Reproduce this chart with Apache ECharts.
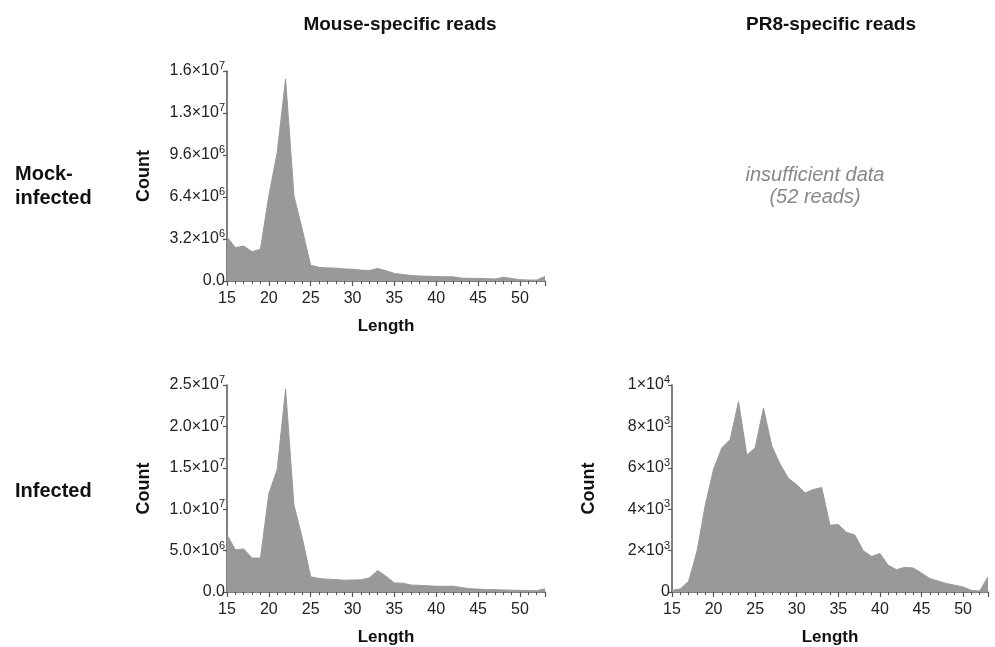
<!DOCTYPE html>
<html>
<head>
<meta charset="utf-8">
<title>Read length distributions</title>
<script src="https://cdn.jsdelivr.net/npm/echarts@6/dist/echarts.min.js"></script>
<style>
  html, body { margin: 0; padding: 0; background: #fff; }
  #chart { width: 995px; height: 647px; }
</style>
</head>
<body>
<div id="chart"></div>
<script>
// read lengths (nt)
var lengths = [15, 16, 17, 18, 19, 20, 21, 22, 23, 24, 25, 26, 27, 28, 29, 30, 31, 32, 33, 34,
               35, 36, 37, 38, 39, 40, 41, 42, 43, 44, 45, 46, 47, 48, 49, 50, 51, 52, 53];

// mouse-specific reads, mock-infected
var mouseMock = [3.37e6, 2.54e6, 2.66e6, 2.23e6, 2.43e6, 6.5e6, 9.8e6, 15.4e6, 6.5e6, 3.9e6,
                 1.2e6, 1.04e6, 1.0e6, 0.98e6, 0.92e6, 0.9e6, 0.83e6, 0.8e6, 0.95e6, 0.78e6,
                 0.58e6, 0.5e6, 0.42e6, 0.38e6, 0.36e6, 0.34e6, 0.32e6, 0.32e6, 0.22e6, 0.2e6,
                 0.2e6, 0.18e6, 0.15e6, 0.28e6, 0.2e6, 0.1e6, 0.08e6, 0.07e6, 0.35e6];

// mouse-specific reads, infected
var mouseInf = [6.9e6, 5.1e6, 5.2e6, 4.1e6, 4.1e6, 11.9e6, 14.8e6, 24.5e6, 10.5e6, 6.5e6,
                1.83e6, 1.63e6, 1.55e6, 1.5e6, 1.43e6, 1.45e6, 1.47e6, 1.7e6, 2.6e6, 1.9e6,
                1.1e6, 1.07e6, 0.84e6, 0.8e6, 0.75e6, 0.7e6, 0.68e6, 0.7e6, 0.55e6, 0.4e6,
                0.35e6, 0.3e6, 0.28e6, 0.25e6, 0.22e6, 0.2e6, 0.18e6, 0.15e6, 0.4e6];

// PR8-specific reads, infected
var pr8Inf = [80, 150, 520, 1960, 4190, 5940, 6970, 7370, 9200, 6610,
              6970, 8890, 7050, 6180, 5490, 5180, 4780, 4950, 5050, 3230,
              3260, 2880, 2750, 1990, 1720, 1860, 1290, 1080, 1190, 1160,
              920, 650, 530, 410, 330, 240, 80, 50, 730];

var colTitles = ['Mouse-specific reads', 'PR8-specific reads'];
var rowTitles = ['Mock-\ninfected', 'Infected'];

var FONT = 'Liberation Sans, Arial, sans-serif';
var AXIS = '#555';
var FILL = '#999999';

function pairs(ys) {
    var out = [];
    for (var i = 0; i < lengths.length; i++) out.push([lengths[i], ys[i]]);
    return out;
}

// 1.6×10^7 style labels
function sciLabel(digits) {
    return function (v) {
        if (v === 0) return digits > 0 ? '0.0' : '0';
        var e = Math.floor(Math.log10(v) + 1e-9);
        var m = v / Math.pow(10, e);
        return m.toFixed(digits) + '×10{sup|' + e + '}';
    };
}

var labelRich = {
    sup: { fontSize: 11, fontFamily: FONT, color: '#222', padding: [0, 0, 10, 0] }
};

function xAxisFor(idx) {
    return {
        type: 'value', gridIndex: idx, min: 15, max: 53, interval: 5,
        name: 'Length', nameLocation: 'middle', nameGap: 37,
        nameTextStyle: { fontFamily: FONT, fontSize: 17, fontWeight: 'bold', color: '#111' },
        axisLine: { show: true, lineStyle: { color: AXIS, width: 1.5 } },
        axisTick: { show: true, length: 5, lineStyle: { color: AXIS, width: 1.2 } },
        minorTick: { show: true, splitNumber: 5, length: 3, lineStyle: { color: AXIS, width: 1 } },
        splitLine: { show: false },
        axisLabel: { fontFamily: FONT, fontSize: 16, color: '#222', margin: 10, showMaxLabel: false }
    };
}

function yAxisFor(idx, max, interval, digits) {
    return {
        type: 'value', gridIndex: idx, min: 0, max: max, interval: interval,
        name: 'Count', nameLocation: 'middle', nameGap: 74, nameRotate: 90,
        nameTextStyle: { fontFamily: FONT, fontSize: 18, fontWeight: 'bold', color: '#111' },
        axisLine: { show: true, lineStyle: { color: AXIS, width: 1.5 } },
        axisTick: { show: true, length: 4, lineStyle: { color: AXIS, width: 1.2 } },
        splitLine: { show: false },
        axisLabel: {
            fontFamily: FONT, fontSize: 16, color: '#222', margin: 2,
            formatter: sciLabel(digits), rich: labelRich
        }
    };
}

function areaSeries(idx, ys) {
    return {
        type: 'line', xAxisIndex: idx, yAxisIndex: idx,
        data: pairs(ys), symbol: 'none', silent: true,
        lineStyle: { color: FILL, width: 1 },
        areaStyle: { color: FILL, opacity: 1 }
    };
}

var option = {
    backgroundColor: '#fff',
    animation: false,
    title: [
        { text: colTitles[0], left: 395, top: 10, textAlign: 'center',
          textStyle: { fontFamily: FONT, fontSize: 19, fontWeight: 'bold', color: '#111' } },
        { text: colTitles[1], left: 826, top: 10, textAlign: 'center',
          textStyle: { fontFamily: FONT, fontSize: 19, fontWeight: 'bold', color: '#111' } }
    ],
    grid: [
        { left: 227, top: 71, width: 318, height: 210 },
        { left: 227, top: 385, width: 318, height: 209 },
        { left: 672, top: 385, width: 316, height: 209 }
    ],
    xAxis: [xAxisFor(0), xAxisFor(1), xAxisFor(2)],
    yAxis: [
        yAxisFor(0, 1.6e7, 3.2e6, 1),
        yAxisFor(1, 2.5e7, 5e6, 1),
        yAxisFor(2, 1e4, 2e3, 0)
    ],
    series: [
        areaSeries(0, mouseMock),
        areaSeries(1, mouseInf),
        areaSeries(2, pr8Inf)
    ],
    graphic: [
        { type: 'text', left: 15, top: 162,
          style: { text: rowTitles[0], font: 'bold 20px ' + FONT, fill: '#111', lineHeight: 24 } },
        { type: 'text', left: 15, top: 481,
          style: { text: rowTitles[1], font: 'bold 20px ' + FONT, fill: '#111' } },
        { type: 'text', x: 815, y: 186,
          style: { text: 'insufficient data\n(52 reads)', font: 'italic 20px ' + FONT,
                   fill: '#888', textAlign: 'center', textVerticalAlign: 'middle', lineHeight: 22 } }
    ]
};

var myChart = echarts.init(document.getElementById('chart'), null, { renderer: 'canvas' });
myChart.setOption(option);
</script>
</body>
</html>
